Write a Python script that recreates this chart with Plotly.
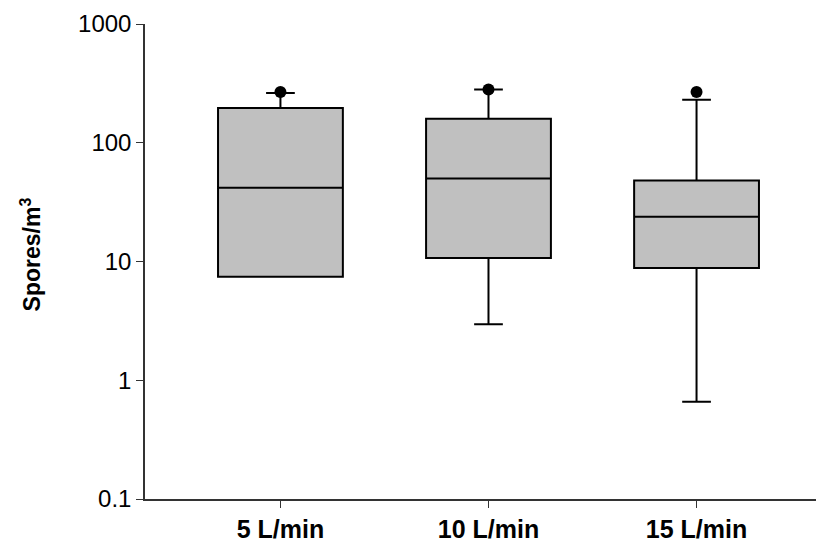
import plotly.graph_objects as go

categories = ["5 L/min", "10 L/min", "15 L/min"]
positions = [1, 2, 3]
q1 = [7.43, 10.7, 8.8]
median = [41.7, 50.0, 23.8]
q3 = [196.0, 159.0, 48.0]
lowerfence = [7.43, 2.96, 0.66]
upperfence = [262.0, 281.0, 230.0]
outliers = [267.0, 281.0, 267.0]

ytickvals = [0.1, 1, 10, 100, 1000]
yticktext = ["0.1", "1", "10", "100", "1000"]

FONT = "Liberation Sans, Arial, sans-serif"

fig = go.Figure()
fig.add_trace(go.Box(
    x=positions, q1=q1, median=median, q3=q3,
    lowerfence=lowerfence, upperfence=upperfence,
    width=0.6, whiskerwidth=0.23,
    fillcolor="#c0c0c0",
    line=dict(color="#000000", width=2),
    boxpoints=False, showlegend=False, hoverinfo="y",
))
fig.add_trace(go.Scatter(
    x=positions, y=outliers, mode="markers",
    marker=dict(color="#000000", size=12, symbol="circle"),
    showlegend=False,
))

fig.update_layout(
    width=816, height=537,
    margin=dict(l=137, r=2, t=14, b=42),
    plot_bgcolor="white", paper_bgcolor="white",
    font=dict(family=FONT, color="#000000"),
    xaxis=dict(
        range=[0.349, 3.603],
        tickvals=positions, ticktext=categories,
        tickfont=dict(size=25, family=FONT, color="#000000", weight="bold"),
        ticks="outside", ticklen=7, tickwidth=1.2, tickcolor="#333333",
        showline=True, linecolor="#333333", linewidth=1.5,
        showgrid=False, zeroline=False,
    ),
    yaxis=dict(
        type="log", range=[-1, 3],
        tickvals=ytickvals, ticktext=yticktext,
        tickfont=dict(size=24, family=FONT, color="#000000"),
        ticks="outside", ticklen=7, tickwidth=1.2, tickcolor="#333333",
        showline=True, linecolor="#333333", linewidth=1.5,
        showgrid=False, zeroline=False,
    ),
    annotations=[dict(
        text="<b>Spores/m<sup>3</sup></b>",
        xref="paper", yref="paper",
        x=-114 / 677, y=0.515,
        xanchor="center", yanchor="middle",
        textangle=-90, showarrow=False,
        font=dict(size=23, family=FONT, color="#000000"),
    )],
)

fig.write_html("out.html")
